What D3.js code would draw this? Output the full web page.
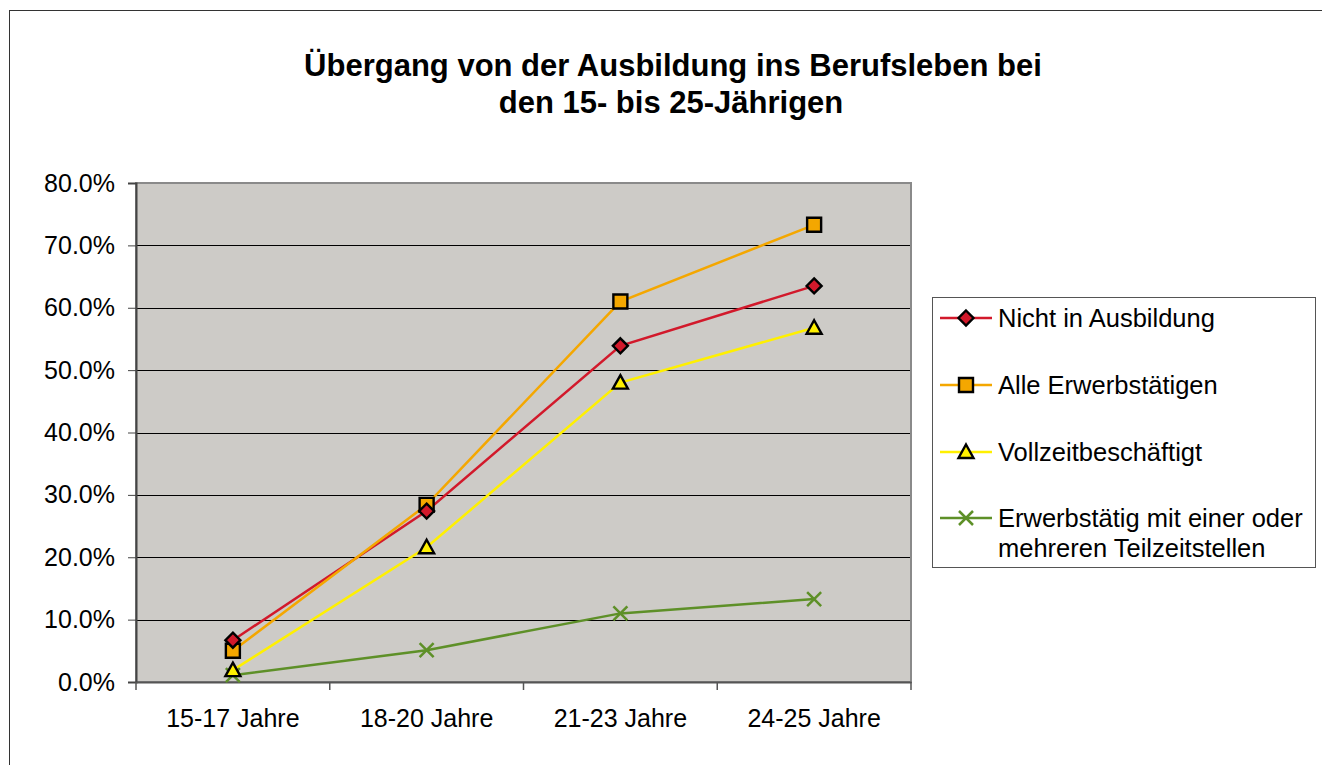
<!DOCTYPE html>
<html>
<head>
<meta charset="utf-8">
<script src="https://cdn.jsdelivr.net/npm/d3@7"></script>
<style>
  body { margin: 0; background: #fff; }
  svg text { font-family: "Liberation Sans", Arial, sans-serif; fill: #000; }
</style>
</head>
<body>
<svg id="chart" width="1322" height="765"></svg>
<script>
var categories = ["15-17 Jahre", "18-20 Jahre", "21-23 Jahre", "24-25 Jahre"];
var nichtInAusbildung = [6.7, 27.4, 53.9, 63.5];
var alleErwerbstaetigen = [5.0, 28.4, 61.0, 73.3];
var vollzeit = [1.9, 21.6, 48.0, 56.8];
var teilzeit = [1.1, 5.1, 11.0, 13.3];
var yTicks = [0, 10, 20, 30, 40, 50, 60, 70, 80];
var seriesNames = ["Nicht in Ausbildung", "Alle Erwerbstätigen", "Vollzeitbeschäftigt", "Erwerbstätig mit einer oder|mehreren Teilzeitstellen"];

var series = [
  {name: seriesNames[0], values: nichtInAusbildung, color: "#d2192b", marker: "diamond"},
  {name: seriesNames[1], values: alleErwerbstaetigen, color: "#f4a700", marker: "square"},
  {name: seriesNames[2], values: vollzeit, color: "#fff000", marker: "triangle"},
  {name: seriesNames[3], values: teilzeit, color: "#5e9028", marker: "cross"}
];

var svg = d3.select("#chart");
var margin = {top: 183, left: 136};
var width = 775, height = 499;

// outer frame
svg.append("rect").attr("x", 9.5).attr("y", 10.5).attr("width", 1330).attr("height", 800)
  .attr("fill", "none").attr("stroke", "#333").attr("stroke-width", 1);

// title
var title = svg.append("text").attr("text-anchor", "middle")
  .style("font-size", "31px").style("font-weight", "bold");
title.append("tspan").attr("x", 673).attr("y", 76).text("Übergang von der Ausbildung ins Berufsleben bei");
title.append("tspan").attr("x", 671).attr("y", 113).text("den 15- bis 25-Jährigen");

var g = svg.append("g").attr("transform", "translate(" + margin.left + "," + margin.top + ")");

var x = d3.scaleBand().domain(categories).range([0, width]);
var y = d3.scaleLinear().domain([0, 80]).range([height, 0]);

// plot background
g.append("rect").attr("width", width).attr("height", height).attr("fill", "#cdcbc7");

// gridlines
g.append("g").selectAll("line").data(yTicks.slice(1, -1)).enter().append("line")
  .attr("x1", 0).attr("x2", width)
  .attr("y1", d => Math.round(y(d)) + 0.5).attr("y2", d => Math.round(y(d)) + 0.5)
  .attr("stroke", "#000").attr("stroke-width", 1);

// plot border
g.append("rect").attr("width", width).attr("height", height)
  .attr("fill", "none").attr("stroke", "#8a8a8a").attr("stroke-width", 2);

// y axis
var yAxis = g.append("g")
  .call(d3.axisLeft(y).tickValues(yTicks).tickSize(8).tickPadding(13)
    .tickFormat(d => d3.format(".1f")(d) + "%"));
yAxis.select(".domain").attr("stroke", "#444").attr("stroke-width", 2);
yAxis.selectAll(".tick line").attr("stroke", "#444");
yAxis.selectAll("text").style("font-size", "25px")
  .style("font-family", "'Liberation Sans', Arial, sans-serif").attr("fill", "#000");

// x axis
var xAxis = g.append("g").attr("transform", "translate(0," + height + ")")
  .call(d3.axisBottom(x).tickSize(0).tickPadding(27));
xAxis.select(".domain").attr("stroke", "#555").attr("stroke-width", 2);
xAxis.selectAll("text").style("font-size", "25px")
  .style("font-family", "'Liberation Sans', Arial, sans-serif").attr("fill", "#000");
// boundary ticks between categories
var bounds = categories.map(c => x(c)).concat([width]);
xAxis.selectAll(".btick").data(bounds).enter().append("line")
  .attr("x1", d => d).attr("x2", d => d).attr("y1", 0).attr("y2", 8)
  .attr("stroke", "#555").attr("stroke-width", 1.5);

function markerPath(type, s) {
  if (type === "diamond") return "M0," + (-s) + "L" + s + ",0L0," + s + "L" + (-s) + ",0Z";
  if (type === "square") return "M" + (-s) + "," + (-s) + "h" + 2 * s + "v" + 2 * s + "h" + (-2 * s) + "Z";
  if (type === "triangle") return "M0," + (-s) + "L" + s + "," + (s * 0.8) + "L" + (-s) + "," + (s * 0.8) + "Z";
  return "M" + (-s) + "," + (-s) + "L" + s + "," + s + "M" + (-s) + "," + s + "L" + s + "," + (-s);
}
var markerSize = {diamond: 7.5, square: 7, triangle: 7.5, cross: 7};

function drawMarker(sel, s) {
  sel.append("path").attr("d", markerPath(s.marker, markerSize[s.marker]))
    .attr("fill", s.marker === "cross" ? "none" : s.color)
    .attr("stroke", s.marker === "cross" ? s.color : "#000")
    .attr("stroke-width", s.marker === "cross" ? 2.5 : 2.4);
}

var line = d3.line().x((d, i) => x(categories[i]) + x.bandwidth() / 2).y(d => y(d));

series.forEach(function(s) {
  g.append("path").datum(s.values).attr("d", line)
    .attr("fill", "none").attr("stroke", s.color).attr("stroke-width", 2.5);
});
series.slice().reverse().forEach(function(s) {
  s.values.forEach(function(v, i) {
    var m = g.append("g").attr("transform", "translate(" + (x(categories[i]) + x.bandwidth() / 2) + "," + y(v) + ")");
    drawMarker(m, s);
  });
});

// legend
var legend = svg.append("g").attr("transform", "translate(932,297)");
legend.append("rect").attr("x", 0.5).attr("y", 0.5).attr("width", 383).attr("height", 270)
  .attr("fill", "#fff").attr("stroke", "#555").attr("stroke-width", 1);
var rowY = [21, 88, 155, 221];
series.forEach(function(s, i) {
  var row = legend.append("g").attr("transform", "translate(0," + rowY[i] + ")");
  row.append("line").attr("x1", 8).attr("x2", 60).attr("y1", 0).attr("y2", 0)
    .attr("stroke", s.color).attr("stroke-width", 2.5);
  var m = row.append("g").attr("transform", "translate(34,0)");
  drawMarker(m, {marker: s.marker, color: s.color});
  var parts = s.name.split("|");
  var t = row.append("text").style("font-size", "25.5px");
  parts.forEach(function(p, j) {
    t.append("tspan").attr("x", 66).attr("y", 9 + j * 30).text(p);
  });
});
</script>
</body>
</html>
